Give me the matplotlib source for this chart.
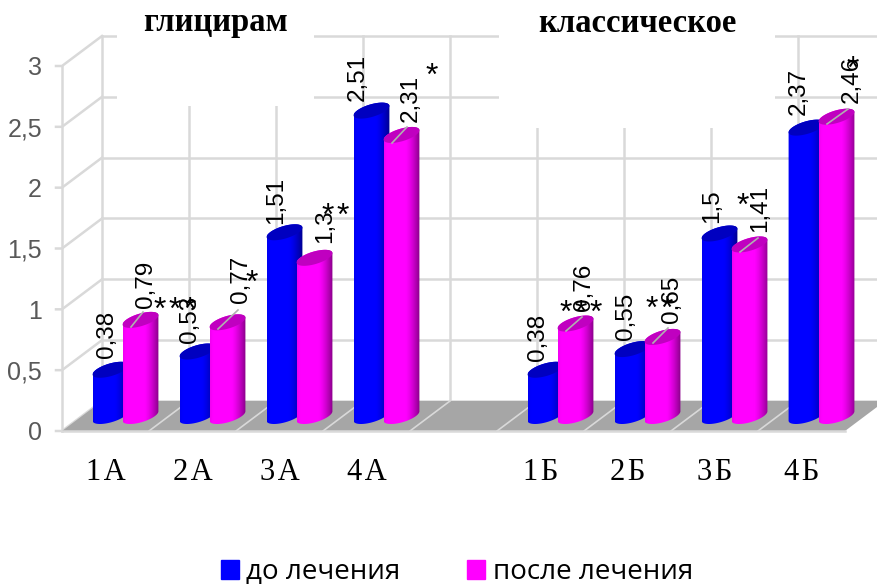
import numpy as np
import matplotlib
matplotlib.use("Agg")
import matplotlib.pyplot as plt
from matplotlib.colors import to_rgb
from matplotlib.patches import Patch, PathPatch, Polygon, Rectangle
from matplotlib.path import Path
from matplotlib.transforms import Affine2D

categories = ["1А", "2А", "3А", "4А", "", "1Б", "2Б", "3Б", "4Б"]
before = [0.38, 0.53, 1.51, 2.51, None, 0.38, 0.55, 1.5, 2.37]
after = [0.79, 0.77, 1.3, 2.31, None, 0.76, 0.65, 1.41, 2.46]
y_ticks = [0, 0.5, 1, 1.5, 2, 2.5, 3]
y_tick_labels = ["0", "0,5", "1", "1,5", "2", "2,5", "3"]
titles = ["глицирам", "классическое"]
series_names = ["до лечения", "после лечения"]
stars = ["***", "*", "**", "*", "***", "**", "*", "*"]

# positions, pixels from top left
before_label_px = [(107, 334), (190, 319), (276, 200), (358, 77),
                   (538, 337), (626, 316), (712, 206), (799, 91)]
after_label_px = [(146, 284), (241, 279), (325, 226), (411, 98),
                  (584, 287), (672, 299), (760, 208), (852, 79)]
star_px = [(175, 311), (252, 284), (336, 217), (432, 77),
           (581, 314), (660, 310), (743, 207), (853, 70)]
leader_px = [((131, 327), (143, 312)), ((218, 329), (238, 310)),
             ((392, 143), (407, 127)), ((566, 331), (582, 317)),
             ((653, 343), (668, 328)), ((740, 252), (758, 238)),
             ((827, 124), (848, 109))]

W, H = 878, 584
X_UNIT, Y_UNIT = 87.0, 121.67
LEFT, ZERO = 62, 431
WALL_X, WALL_Y = 40 / X_UNIT, 30 / Y_UNIT
GRID = "#d9d9d9"
SANS = "Liberation Sans"
SERIF = "Liberation Serif"

fig = plt.figure(figsize=(W / 100, H / 100), dpi=100)
ax = fig.add_axes([0, 0, 1, 1])
ax.set_xlim(-LEFT / X_UNIT, (W - LEFT) / X_UNIT)
ax.set_ylim((ZERO - H) / Y_UNIT, ZERO / Y_UNIT)
ax.axis("off")
pix = Affine2D().scale(1, -1).translate(0, H)

n = len(categories)

# walls
for v in y_ticks:
    ax.plot([WALL_X, 20], [v + WALL_Y, v + WALL_Y], color=GRID, lw=1.8, zorder=1)
    ax.plot([-6 / X_UNIT, 0, WALL_X], [v, v, v + WALL_Y], color=GRID, lw=1.8, zorder=1)
for i in range(n + 1):
    ax.plot([i + WALL_X, i + WALL_X], [WALL_Y, 3 + WALL_Y], color=GRID, lw=1.8, zorder=1)
ax.plot([0, 0], [0, 3], color=GRID, lw=1.8, zorder=1)

# white boxes behind the titles
ax.add_patch(Rectangle((117, 0), 197, 106, transform=pix, color="white", lw=0, zorder=2))
ax.add_patch(Rectangle((499, 0), 276, 128, transform=pix, color="white", lw=0, zorder=2))

# floor
ax.add_patch(Polygon([(0, 0), (n, 0), (n + WALL_X, WALL_Y), (WALL_X, WALL_Y)],
                     color="#a6a6a6", lw=0, zorder=3))
for i in range(1, n):
    ax.plot([i, i + WALL_X], [0, WALL_Y], color=GRID, lw=1.2, zorder=3.1)
ax.plot([0, n], [0, 0], color=GRID, lw=1.8, zorder=3.1)


def gradient(color, dark):
    c = np.array(to_rgb(color))
    d = np.array(to_rgb(dark))
    t = np.linspace(0, 1, 200)
    k = np.clip((t - 0.6) / 0.4, 0, 1) ** 1.4
    k = k + 0.12 * np.clip(1 - t / 0.08, 0, 1)
    return (c + (d - c) * k[:, None])[None, :, :]


def cylinder(x, value, color, dark, top, z):
    w, dx, dy = 29 / X_UNIT, 21 / X_UNIT, 16 / Y_UNIT
    base = 15 / Y_UNIT
    tr = np.arctan(dx / w)

    def arc(t, cy):
        return np.column_stack([x + np.cos(t) * w / 2 + np.sin(t) * dx / 2,
                                cy + np.sin(t) * dy / 2])

    upper = arc(np.linspace(tr, tr + np.pi, 50), base + value)
    lower = arc(np.linspace(tr + np.pi, tr + 2 * np.pi, 50), base)
    body = np.vstack([upper, lower, upper[:1]])
    half = 18 / X_UNIT
    im = ax.imshow(gradient(color, dark), aspect="auto", zorder=z,
                   extent=(x - half, x + half, base - dy, base + value + dy))
    clip = PathPatch(Path(body), transform=ax.transData, fc="none", lw=0)
    ax.add_patch(clip)
    im.set_clip_path(clip)
    ax.add_patch(Polygon(arc(np.linspace(0, 2 * np.pi, 80), base + value),
                         fc=top, ec="none", zorder=z + 0.01))


xlim, ylim = ax.get_xlim(), ax.get_ylim()
for i in range(n):
    if before[i] is None:
        continue
    centre = i + 0.5 + WALL_X / 2
    cylinder(centre - 15 / X_UNIT, before[i], "#0000ff", "#00008c", "#0000c0", 4 + i * 0.1)
    cylinder(centre + 15 / X_UNIT, after[i], "#ff00ff", "#860086", "#c000c0", 4.05 + i * 0.1)
ax.set_xlim(xlim)
ax.set_ylim(ylim)

for p0, p1 in leader_px:
    ax.plot([p0[0], p1[0]], [p0[1], p1[1]], color="#b0b0b0", lw=1.2, transform=pix, zorder=6)

# labels on the bars
before_values = [v for v in before if v is not None]
after_values = [v for v in after if v is not None]
for vals, places in ((before_values, before_label_px), (after_values, after_label_px)):
    for v, p in zip(vals, places):
        ax.text(p[0], p[1], str(v).replace(".", ","), transform=pix, rotation=90,
                ha="center", va="center", fontsize=17.5, family=SANS, color="black", zorder=7)
for s, p in zip(stars, star_px):
    ax.text(p[0], p[1], "\u200a".join(s), transform=pix, ha="center", va="center",
            fontsize=23, family=SANS, color="black", zorder=8)

# axis text
for v, s in zip(y_ticks, y_tick_labels):
    ax.text(-20 / X_UNIT, v, s, ha="right", va="center_baseline", fontsize=18, family=SANS,
            color="#595959", zorder=7)
for i, c in enumerate(categories):
    if c:
        ax.text(i + 0.5, -42 / Y_UNIT, c[0] + "\u200a" + c[1], ha="center", va="center",
                fontsize=22, family=SERIF, color="black", zorder=7)

ax.text(215, 23, titles[0], transform=pix, ha="center", va="center", fontsize=23.5,
        family=SERIF, weight="bold", color="black", zorder=7)
ax.text(637, 23, titles[1], transform=pix, ha="center", va="center", fontsize=23.5,
        family=SERIF, weight="bold", color="black", zorder=7)

handles = [Patch(color="#0000ff", label=series_names[0]),
           Patch(color="#ff00ff", label=series_names[1])]
ax.legend(handles=handles, ncol=2, loc="center", bbox_to_anchor=(457 / W, 1 - 572 / H),
          bbox_transform=fig.transFigure, frameon=False,
          prop={"family": "Open Sans", "size": 20}, handlelength=0.65, handleheight=0.65,
          handletextpad=0.28, columnspacing=2.4, borderpad=0, borderaxespad=0)

fig.savefig("out.png", dpi=100)
